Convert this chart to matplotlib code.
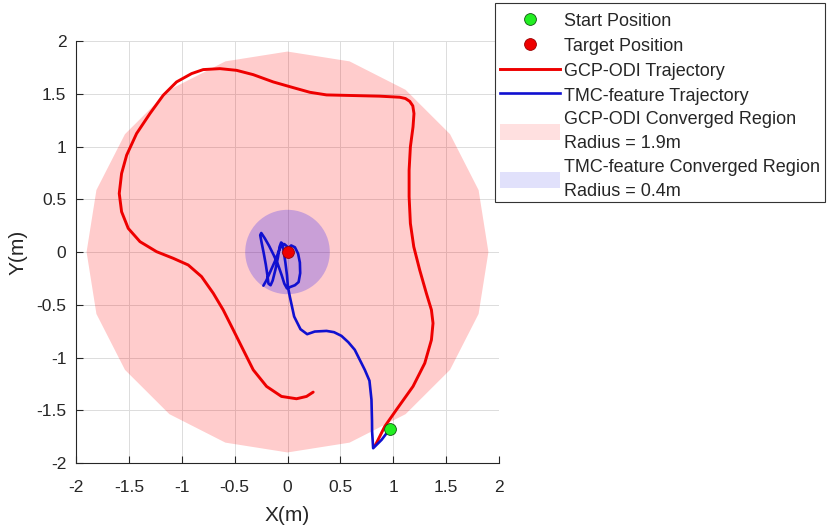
import numpy as np
import matplotlib
matplotlib.use("Agg")
import matplotlib.pyplot as plt
from matplotlib.patches import RegularPolygon, Circle, Patch, Rectangle
from matplotlib.lines import Line2D

plt.rcParams['font.family'] = ['Liberation Sans', 'DejaVu Sans']

# ---- data ----
start_pos = (0.968, -1.677)
target_pos = (0.0, 0.0)
gcp_radius = 1.9
gcp_sides = 20
tmc_radius = 0.4

gcp_x = [0.83, 0.841, 0.920, 1.030, 1.187, 1.298, 1.361, 1.376, 1.361, 1.313, 1.250,
         1.194, 1.162, 1.150, 1.150, 1.162, 1.187, 1.196, 1.185, 1.156, 1.115, 1.061,
         0.872, 0.620, 0.369, 0.211, 0.054, -0.135, -0.324, -0.482, -0.639, -0.797,
         -0.907, -1.049, -1.175, -1.301, -1.427, -1.521, -1.569, -1.591, -1.569,
         -1.506, -1.395, -1.238, -1.080, -0.939, -0.813, -0.702, -0.608, -0.513,
         -0.419, -0.324, -0.198, -0.057, 0.085, 0.180, 0.243]
gcp_y = [-1.83, -1.811, -1.653, -1.495, -1.274, -1.054, -0.833, -0.675, -0.549, -0.391,
         -0.170, 0.050, 0.271, 0.524, 0.776, 0.997, 1.186, 1.312, 1.385, 1.428, 1.455,
         1.467, 1.477, 1.483, 1.489, 1.514, 1.558, 1.612, 1.681, 1.722, 1.738, 1.729,
         1.691, 1.612, 1.486, 1.312, 1.123, 0.918, 0.744, 0.555, 0.382, 0.224,
         0.098, 0.003, -0.060, -0.123, -0.233, -0.391, -0.549, -0.738, -0.927,
         -1.117, -1.274, -1.369, -1.391, -1.369, -1.328]

tmc_x = [0.968, 0.89, 0.81, 0.80, 0.799, 0.794, 0.775, 0.731, 0.636, 0.575, 0.510,
         0.440, 0.369, 0.258, 0.186, 0.123, 0.063, 0.022, 0.004, -0.005, -0.02,
         -0.035, -0.048, -0.06, -0.075, -0.09, -0.115, -0.14, -0.16, -0.18, -0.19,
         -0.205, -0.225, -0.245, -0.258, -0.248, -0.215, -0.175, -0.13, -0.09,
         -0.055, -0.03, -0.005, 0.03, 0.07, 0.105, 0.12, 0.117, 0.10, 0.07, 0.035,
         0.01, -0.03, -0.06, -0.085, -0.12, -0.16, -0.20, -0.228]
tmc_y = [-1.677, -1.78, -1.86, -1.70, -1.60, -1.40, -1.22, -1.117, -0.927, -0.855,
         -0.795, -0.760, -0.748, -0.754, -0.779, -0.732, -0.612, -0.423, -0.33,
         -0.22, -0.10, 0.0, 0.08, 0.09, 0.05, -0.05, -0.17, -0.27, -0.315, -0.30,
         -0.22, -0.12, -0.01, 0.09, 0.16, 0.18, 0.13, 0.06, -0.03, -0.12, -0.22,
         -0.30, -0.345, -0.33, -0.315, -0.285, -0.20, -0.10, -0.015, 0.045, 0.062,
         0.04, 0.075, 0.06, 0.0, -0.09, -0.18, -0.27, -0.319]

ticks = [-2, -1.5, -1, -0.5, 0, 0.5, 1, 1.5, 2]
tick_labels = ['-2', '-1.5', '-1', '-0.5', '0', '0.5', '1', '1.5', '2']

# ---- figure ----
W, H = 830, 529
fig = plt.figure(figsize=(W / 100, H / 100), dpi=100)
ax = fig.add_axes([76/W, 1-463/H, 423/W, 422/H])

ax.add_patch(RegularPolygon(target_pos, numVertices=gcp_sides, radius=gcp_radius,
                            orientation=0, facecolor=(1, 0, 0, 0.2), edgecolor='none', zorder=1))
ax.add_patch(Circle(target_pos, tmc_radius, facecolor=(0.05, 0.0, 1.0, 0.22),
                    edgecolor='none', zorder=2))
ax.plot(gcp_x, gcp_y, color='#ee0000', lw=2.1, zorder=3, solid_capstyle='round',
        solid_joinstyle='round')
ax.plot(tmc_x, tmc_y, color='#1010d0', lw=1.9, zorder=4, solid_capstyle='round',
        solid_joinstyle='round')
ax.plot(*start_pos, 'o', ms=8.5, mfc='#22ee22', mec='#115511', mew=0.6, zorder=5)
ax.plot(*target_pos, 'o', ms=8.5, mfc='#ee0000', mec='#990000', mew=0.6, zorder=5)

ax.set_xlim(-2, 2)
ax.set_ylim(-2, 2)
ax.set_xticks(ticks)
ax.set_xticklabels(tick_labels)
ax.set_yticks(ticks)
ax.set_yticklabels(tick_labels)
ax.tick_params(direction='in', length=5, width=0.8, colors='#262626',
               labelsize=12.5)
ax.tick_params(axis='x', pad=12)
ax.tick_params(axis='y', pad=7)
ax.grid(True, color='#dcdcdc', lw=0.7)
ax.set_axisbelow(True)
for s in ['top', 'right']:
    ax.spines[s].set_visible(False)
for s in ['left', 'bottom']:
    ax.spines[s].set_color('#262626')
    ax.spines[s].set_linewidth(0.8)
ax.set_xlabel('X(m)', fontsize=15, color='#262626', labelpad=8)
ax.set_ylabel('Y(m)', fontsize=15, color='#262626', labelpad=6)

# legend box
fig.add_artist(Rectangle((495/W, 1-202/H), 330/W, 199/H, transform=fig.transFigure,
                         facecolor='white', edgecolor='#333333', lw=0.8, zorder=5))

handles = [
    Line2D([], [], ls='none', marker='o', ms=8.5, mfc='#22ee22', mec='#115511', mew=0.6),
    Line2D([], [], ls='none', marker='o', ms=8.5, mfc='#ee0000', mec='#990000', mew=0.6),
    Line2D([], [], color='#ee0000', lw=2.1),
    Line2D([], [], color='#1010d0', lw=1.9),
    Patch(facecolor=(1, 0, 0, 0.12), edgecolor='none'),
    Patch(facecolor=(0.05, 0.05, 0.9, 0.12), edgecolor='none'),
]
labels = ['Start Position', 'Target Position', 'GCP-ODI Trajectory',
          'TMC-feature Trajectory', 'GCP-ODI Converged Region\nRadius = 1.9m',
          'TMC-feature Converged Region\nRadius = 0.4m']
leg = fig.legend(handles, labels, loc='upper left', bbox_to_anchor=(500/W, 1-12/H),
                 bbox_transform=fig.transFigure, borderaxespad=0, fontsize=13,
                 frameon=False, handlelength=3.3, handleheight=1.0, handletextpad=0.25,
                 labelspacing=0.36, borderpad=0, numpoints=1)
leg.set_zorder(6)
for t in leg.get_texts():
    t.set_color('#262626')
    t.set_linespacing(1.55)

fig.savefig('out.png', dpi=100)
